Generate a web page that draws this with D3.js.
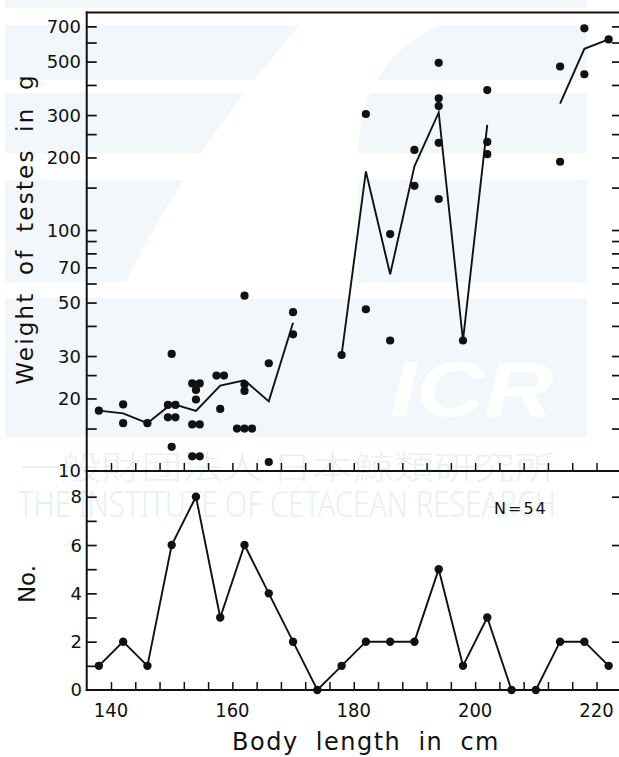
<!DOCTYPE html>
<html>
<head>
<meta charset="utf-8">
<script src="https://cdn.jsdelivr.net/npm/d3@7/dist/d3.min.js"></script>
<style>
  html, body { margin: 0; padding: 0; background: #fff; }
  svg { display: block; }
  text { font-family: "DejaVu Sans", "Liberation Sans", sans-serif; fill: #111; }
</style>
</head>
<body>
<svg id="chart" width="619" height="757"></svg>
<script>
// 4-cm body length classes (class mid-points) and number of animals per class
const lengthClasses = [138, 142, 146, 150, 154, 158, 162, 166, 170, 174, 178,
                       182, 186, 190, 194, 198, 202, 206, 210, 214, 218, 222];
const classCounts   = [1, 2, 1, 6, 8, 3, 6, 4, 2, 0, 1,
                       2, 2, 2, 5, 1, 3, 0, 0, 2, 2, 1];

// individual testes weights (g) with the length class of each animal
const sampleLengths = [138,
  142, 142,
  146,
  150, 150, 150, 150, 150, 150,
  154, 154, 154, 154, 154, 154, 154, 154,
  158, 158, 158,
  162, 162, 162, 162, 162, 162,
  166, 166,
  170, 170,
  178,
  182, 182,
  186, 186,
  190, 190,
  194, 194, 194, 194, 194,
  198,
  202, 202, 202,
  214, 214,
  218, 218,
  222];
const sampleWeights = [17.8,
  18.9, 15.8,
  15.8,
  18.8, 18.8, 16.7, 16.7, 30.6, 12.6,
  23.1, 23.1, 21.7, 19.8, 15.6, 15.6, 11.5, 11.5,
  24.9, 24.9, 18.1,
  53.4, 22.9, 21.5, 15.0, 15.0, 15.0,
  28.0, 10.9,
  45.6, 36.9,
  30.3,
  303, 46.9,
  96.2, 34.8,
  215, 152.5,
  494, 352, 327, 230, 134.5,
  34.8,
  381, 232, 206.5,
  477, 192,
  687, 443,
  618];

// axis ticks
const xTicks        = d3.range(140, 221, 4);
const xTickLabels   = [140, 160, 180, 200, 220];
const wTicks        = [15, 20, 25, 30, 40, 50, 60, 70, 80, 90, 100, 150, 200, 250, 300, 400, 500, 600, 700];
const wTickLabels   = [10, 20, 30, 50, 70, 100, 200, 300, 500, 700];
const nTicks        = [1, 2, 3, 4, 5, 6, 7, 8];
const nTickLabels   = [0, 2, 4, 6, 8];
const nRightTicks   = [2, 4, 6, 8];

const svg = d3.select("#chart");
const ink = "#111";

// ---------- scales ----------
const x  = d3.scaleLinear().domain([140, 220]).range([111, 596.5]);
const yW = d3.scaleLog().domain([10, 800]).range([471, 12.4]);
const yN = d3.scaleLinear().domain([0, 8]).range([690, 496.7]);
const leftX = x(136), rightX = 619;

// ---------- faint background emblem ----------
const wm = svg.append("g").attr("class", "emblem");
const band = "#f2f7fb";
wm.append("rect").attr("x", 5).attr("y", 0).attr("width", 582).attr("height", 437).attr("fill", band);
[[8, 25], [80, 93], [153, 180], [282, 298]].forEach(([a, b]) =>
  wm.append("rect").attr("x", 0).attr("y", a).attr("width", 619).attr("height", b - a).attr("fill", "#fff"));
wm.append("path")
  .attr("d", "M300,25 L440,25 Q362,60 358,150 L358,298 L118,298 Q190,150 300,25 Z")
  .attr("fill", "#fff");
wm.append("text").attr("x", 390).attr("y", 416)
  .style("font-family", "'Liberation Sans', Arial, sans-serif")
  .style("font-weight", "bold").style("font-style", "italic")
  .style("font-size", "78px").style("fill", "#fff")
  .attr("textLength", 163).attr("lengthAdjust", "spacingAndGlyphs")
  .text("ICR");
wm.append("text").attr("x", 20).attr("y", 479)
  .style("font-family", "'Noto Sans CJK JP', sans-serif").style("font-weight", 300)
  .style("font-size", "32px").style("fill", "#e8f0f6")
  .attr("textLength", 535).attr("lengthAdjust", "spacingAndGlyphs")
  .text("一般財団法人 日本鯨類研究所");
wm.append("text").attr("x", 18).attr("y", 517)
  .style("font-family", "'Noto Sans', sans-serif").style("font-weight", 300)
  .style("font-size", "36px").style("fill", "#e8f0f6")
  .attr("textLength", 538).attr("lengthAdjust", "spacingAndGlyphs")
  .text("THE INSTITUTE OF CETACEAN RESEARCH");

// ---------- frame lines ----------
const frame = svg.append("g").attr("stroke", ink).attr("stroke-width", 2).attr("fill", "none");
frame.append("line").attr("x1", leftX).attr("x2", leftX).attr("y1", 11.5).attr("y2", 691);
frame.append("line").attr("x1", leftX - 1).attr("x2", rightX).attr("y1", 12.4).attr("y2", 12.4);
frame.append("line").attr("x1", leftX - 1).attr("x2", rightX).attr("y1", 471).attr("y2", 471);
frame.append("line").attr("x1", leftX - 1).attr("x2", rightX).attr("y1", 690).attr("y2", 690);

// ---------- x ticks (pointing up, on both horizontal axes) ----------
[471, 690].forEach(y0 => {
  svg.append("g").attr("transform", `translate(0,${y0})`)
    .call(d3.axisTop(x).tickValues(xTicks).tickSize(8).tickFormat(""))
    .call(g => g.select(".domain").remove())
    .call(g => g.selectAll("line").attr("stroke", ink).attr("stroke-width", 1.5));
});
svg.append("g").selectAll("text").data(xTickLabels).join("text")
  .attr("x", d => x(d)).attr("y", 717)
  .attr("text-anchor", "middle")
  .style("font-family", "'DejaVu Sans Condensed', 'DejaVu Sans', sans-serif")
  .style("font-size", "20px")
  .text(d => d);

// ---------- upper panel axes (log scale) ----------
svg.append("g").attr("transform", `translate(${leftX},0)`)
  .call(d3.axisRight(yW).tickValues(wTicks).tickSize(10).tickFormat(""))
  .call(g => g.select(".domain").remove())
  .call(g => g.selectAll("line").attr("stroke", ink).attr("stroke-width", 1.7));
svg.append("g").attr("transform", `translate(${rightX},0)`)
  .call(d3.axisLeft(yW).tickValues(wTicks).tickSize(7).tickFormat(""))
  .call(g => g.select(".domain").remove())
  .call(g => g.selectAll("line").attr("stroke", ink).attr("stroke-width", 1.7));
svg.append("g").selectAll("text").data(wTickLabels).join("text")
  .attr("x", 81).attr("y", d => yW(d)).attr("dy", "0.36em")
  .attr("text-anchor", "end").style("font-size", "18px")
  .text(d => d);

// ---------- lower panel axes ----------
svg.append("g").attr("transform", `translate(${leftX},0)`)
  .call(d3.axisRight(yN).tickValues(nTicks).tickSize(10).tickFormat(""))
  .call(g => g.select(".domain").remove())
  .call(g => g.selectAll("line").attr("stroke", ink).attr("stroke-width", 1.7));
svg.append("g").attr("transform", `translate(${rightX},0)`)
  .call(d3.axisLeft(yN).tickValues(nRightTicks).tickSize(7).tickFormat(""))
  .call(g => g.select(".domain").remove())
  .call(g => g.selectAll("line").attr("stroke", ink).attr("stroke-width", 1.7));
svg.append("g").selectAll("text").data(nTickLabels).join("text")
  .attr("x", 82).attr("y", d => yN(d)).attr("dy", "0.36em")
  .attr("text-anchor", "end").style("font-size", "18px")
  .text(d => d);

// ---------- upper panel: individual weights and class means ----------
const samples = sampleLengths.map((L, i) => ({ L, W: sampleWeights[i] }));
// identical readings sit side by side
const groups = d3.group(samples, d => d.L + "|" + d.W);
groups.forEach(arr => arr.forEach((d, i) => { d.dx = (i - (arr.length - 1) / 2) * 7.5; }));

const means = lengthClasses.map(L => ({
  L, W: d3.mean(samples.filter(s => s.L === L), s => s.W)
}));
const meanLine = d3.line()
  .defined(d => d.W !== undefined)
  .x(d => x(d.L)).y(d => yW(d.W));
svg.append("path").datum(means)
  .attr("d", meanLine).attr("fill", "none")
  .attr("stroke", ink).attr("stroke-width", 1.9).attr("stroke-linejoin", "miter");

svg.append("g").selectAll("circle").data(samples).join("circle")
  .attr("cx", d => x(d.L) + d.dx).attr("cy", d => yW(d.W))
  .attr("r", 4.1).attr("fill", ink);

// ---------- lower panel: frequency polygon ----------
const freq = lengthClasses.map((L, i) => ({ L, n: classCounts[i] }));
svg.append("path").datum(freq)
  .attr("d", d3.line().x(d => x(d.L)).y(d => yN(d.n)))
  .attr("fill", "none").attr("stroke", ink).attr("stroke-width", 1.9);
svg.append("g").selectAll("circle").data(freq).join("circle")
  .attr("cx", d => x(d.L)).attr("cy", d => yN(d.n))
  .attr("r", 4.2).attr("fill", ink);

svg.append("text").attr("x", 494).attr("y", 514)
  .style("font-size", "16px").style("letter-spacing", "2px")
  .text("N=" + d3.sum(classCounts));

// ---------- axis titles ----------
svg.append("text").attr("x", 366).attr("y", 750)
  .attr("text-anchor", "middle")
  .style("font-size", "24px").style("letter-spacing", "1.5px").style("word-spacing", "8px")
  .text("Body length in cm");
svg.append("text")
  .attr("transform", "translate(33,229) rotate(-90)")
  .attr("text-anchor", "middle")
  .style("font-size", "23px").style("letter-spacing", "2.2px").style("word-spacing", "7px")
  .text("Weight of testes in g");
svg.append("text")
  .attr("transform", "translate(35,584) rotate(-90)")
  .attr("text-anchor", "middle")
  .style("font-size", "23px")
  .text("No.");
</script>
</body>
</html>
